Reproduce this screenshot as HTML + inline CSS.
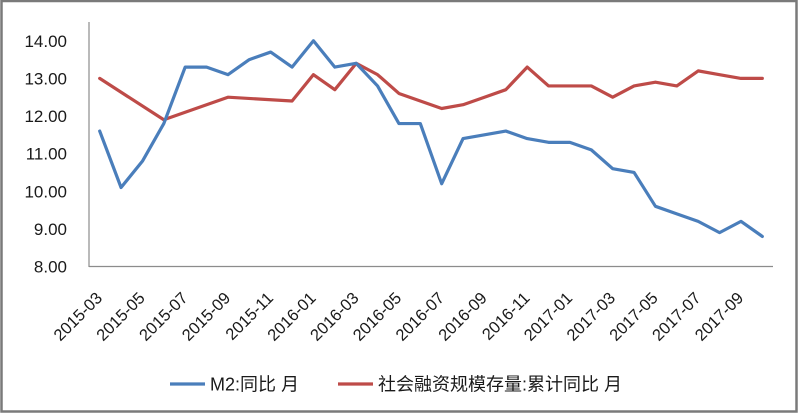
<!DOCTYPE html>
<html>
<head>
<meta charset="utf-8">
<style>
  html, body { margin: 0; padding: 0; background: #fff; }
  body { width: 800px; height: 413px; overflow: hidden; position: relative; }
  svg { position: absolute; left: 0; top: 0; }
  text { font-family: "Liberation Sans", "Noto Sans CJK SC", sans-serif; fill: #1a1a1a; }
</style>
</head>
<body>
<svg width="800" height="413" viewBox="0 0 800 413" xmlns="http://www.w3.org/2000/svg">
  <rect x="0" y="0" width="800" height="413" fill="#fff"/>
  <!-- outer border -->
  <rect x="1.5" y="1" width="795" height="410.5" fill="none" stroke="#7a7a7a" stroke-width="2.5"/>

  <!-- axes -->
  <line x1="89" y1="22" x2="89" y2="267" stroke="#8c8c8c" stroke-width="1.2"/>
  <line x1="89" y1="266.5" x2="773" y2="266.5" stroke="#8c8c8c" stroke-width="1.2"/>

  <!-- y labels -->
  <g font-size="17" text-anchor="end">
    <text x="67" y="46.8">14.00</text>
    <text x="67" y="84.4">13.00</text>
    <text x="67" y="122">12.00</text>
    <text x="67" y="159.6">11.00</text>
    <text x="67" y="197.3">10.00</text>
    <text x="67" y="234.9">9.00</text>
    <text x="67" y="272.5">8.00</text>
  </g>

  <!-- x labels -->
  <g font-size="16.5" text-anchor="end">
    <text transform="translate(103.2,299) rotate(-45)">2015-03</text>
    <text transform="translate(145.9,299) rotate(-45)">2015-05</text>
    <text transform="translate(188.7,299) rotate(-45)">2015-07</text>
    <text transform="translate(231.4,299) rotate(-45)">2015-09</text>
    <text transform="translate(274.2,299) rotate(-45)">2015-11</text>
    <text transform="translate(316.9,299) rotate(-45)">2016-01</text>
    <text transform="translate(359.7,299) rotate(-45)">2016-03</text>
    <text transform="translate(402.4,299) rotate(-45)">2016-05</text>
    <text transform="translate(445.2,299) rotate(-45)">2016-07</text>
    <text transform="translate(487.9,299) rotate(-45)">2016-09</text>
    <text transform="translate(530.7,299) rotate(-45)">2016-11</text>
    <text transform="translate(573.4,299) rotate(-45)">2017-01</text>
    <text transform="translate(616.2,299) rotate(-45)">2017-03</text>
    <text transform="translate(658.9,299) rotate(-45)">2017-05</text>
    <text transform="translate(701.7,299) rotate(-45)">2017-07</text>
    <text transform="translate(744.4,299) rotate(-45)">2017-09</text>
  </g>

  <!-- red series -->
  <polyline fill="none" stroke="#be4b48" stroke-width="3.2" stroke-linejoin="round" stroke-linecap="round"
    points="99.69,78.4 163.81,119.78 227.94,97.21 292.06,100.97 313.44,74.64 334.81,89.69 356.19,63.35 377.56,74.64 398.94,93.45 420.31,100.97 441.69,108.5 463.06,104.73 484.44,97.21 505.81,89.69 527.19,67.11 548.56,85.92 569.94,85.92 591.31,85.92 612.69,97.21 634.06,85.92 655.44,82.16 676.81,85.92 698.19,70.88 719.56,74.64 740.94,78.4 762.31,78.4"/>

  <!-- blue series -->
  <polyline fill="none" stroke="#4a7ebb" stroke-width="3.2" stroke-linejoin="round" stroke-linecap="round"
    points="99.69,131.07 121.06,187.5 142.44,161.16 163.81,123.54 185.19,67.11 206.56,67.11 227.94,74.64 249.31,59.59 270.69,52.07 292.06,67.11 313.44,40.78 334.81,67.11 356.19,63.35 377.56,85.92 398.94,123.54 420.31,123.54 441.69,183.74 463.06,138.59 484.44,134.83 505.81,131.07 527.19,138.59 548.56,142.35 569.94,142.35 591.31,149.88 612.69,168.69 634.06,172.45 655.44,206.31 676.81,213.83 698.19,221.36 719.56,232.64 740.94,221.36 762.31,236.4"/>

  <!-- legend -->
  <line x1="170" y1="384" x2="205" y2="384" stroke="#4a7ebb" stroke-width="3.2"/>
  <text x="210" y="390.5" font-size="18">M2:同比<tspan dx="5">月</tspan></text>
  <line x1="338" y1="384" x2="373" y2="384" stroke="#be4b48" stroke-width="3.2"/>
  <text x="378" y="390.5" font-size="18">社会融资规模存量:累计同比<tspan dx="5">月</tspan></text>
</svg>
</body>
</html>
